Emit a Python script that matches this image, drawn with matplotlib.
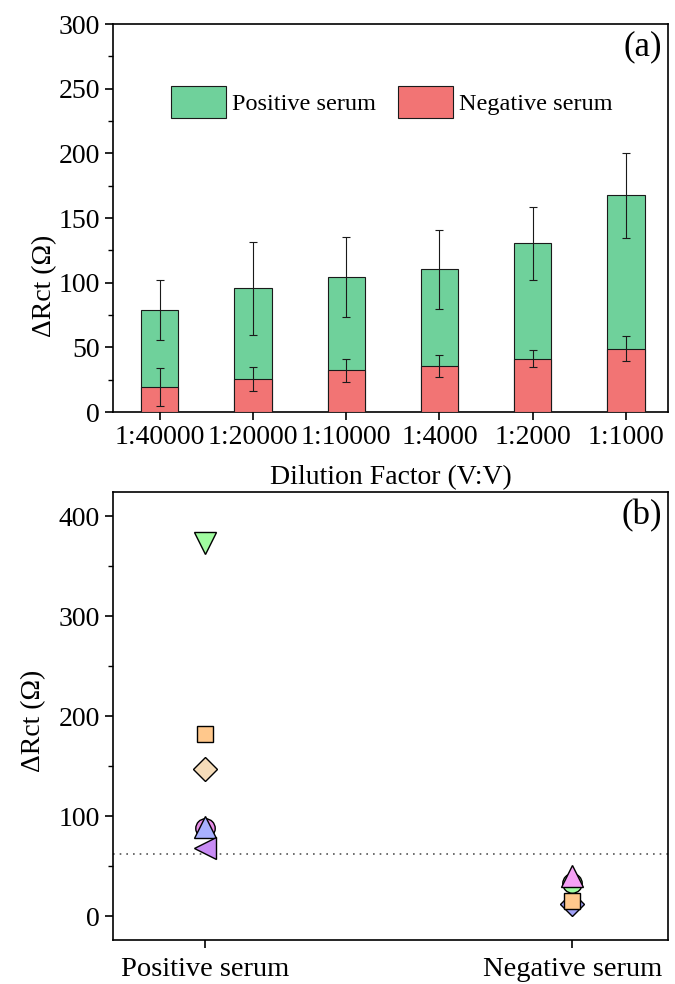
import numpy as np
import matplotlib
matplotlib.use('Agg')
import matplotlib.pyplot as plt
from matplotlib.ticker import MultipleLocator

plt.rcParams['font.family'] = ['Liberation Serif', 'DejaVu Serif']
plt.rcParams['mathtext.fontset'] = 'stix'

# (a) 稀释倍数数据
dilutions = ['1:40000', '1:20000', '1:10000', '1:4000', '1:2000', '1:1000']
pos_mean = [79, 95.5, 104.3, 110.2, 130.3, 167.4]
pos_err = [23, 36, 30.7, 30.7, 28.2, 33.1]
neg_mean = [19.3, 25.5, 32.2, 35.5, 41.2, 48.9]
neg_err = [14.5, 9.3, 8.8, 8.6, 6.4, 9.5]

# (b) 单个样本数据
groups = ['Positive serum', 'Negative serum']
pos_pts = [373, 182, 147, 88.5, 89, 68]
pos_markers = ['v', 's', 'D', 'o', '^', '<']
pos_colors = ['#a0fca0', '#ffc88c', '#f5dcb9', '#e68ce6', '#a8b0ff', '#c88cf5']
neg_pts = [12, 15, 33, 40.5]
neg_markers = ['D', 's', 'o', '^']
neg_colors = ['#a0a0f5', '#ffc88c', '#a0fca0', '#f5a0f5']
cutoff = 62.5

msize = {'v': 16, '^': 16, '<': 16, 'o': 14, 's': 11.5, 'D': 12.2}

fig = plt.figure(figsize=(6.75, 9.84), dpi=100)
ax1 = fig.add_axes([113/675, 1-412/984, 555/675, 388/984])
ax2 = fig.add_axes([113/675, 1-940/984, 555/675, 448/984])

x = np.arange(len(dilutions))
ax1.bar(x, pos_mean, 0.4, color='#6fd19b', edgecolor='#1a1a1a', linewidth=0.8,
        label='Positive serum', zorder=2)
ax1.errorbar(x, pos_mean, yerr=pos_err, fmt='none', ecolor='#1a1a1a',
             elinewidth=0.8, capsize=3, capthick=0.8, zorder=3)
ax1.bar(x, neg_mean, 0.4, color='#f27474', edgecolor='#1a1a1a', linewidth=0.8,
        label='Negative serum', zorder=4)
ax1.errorbar(x, neg_mean, yerr=neg_err, fmt='none', ecolor='#1a1a1a',
             elinewidth=0.8, capsize=3, capthick=0.8, zorder=5)
ax1.set_xlim(-0.5, 5.45)
ax1.set_ylim(0, 300)
ax1.set_xticks(x)
ax1.set_xticklabels(dilutions)
ax1.yaxis.set_major_locator(MultipleLocator(50))
ax1.yaxis.set_minor_locator(MultipleLocator(25))
ax1.set_ylabel('ΔRct (Ω)', fontsize=20)
ax1.yaxis.set_label_coords(-0.10, 0.325)
ax1.set_xlabel('Dilution Factor (V:V)', fontsize=20, labelpad=11)
ax1.tick_params(axis='both', labelsize=20, direction='out', length=6, width=1.2)
ax1.tick_params(axis='y', which='minor', length=3.5, width=1)
ax1.legend(loc='center left', bbox_to_anchor=(58/555, 1-78/388), ncol=2, frameon=False,
           fontsize=17.5, handlelength=2.26, handleheight=1.6, columnspacing=0.9,
           handletextpad=0.25, borderaxespad=0, borderpad=0)
ax1.text(0.99, 0.985, '(a)', transform=ax1.transAxes, ha='right', va='top', fontsize=25)

# (b)
for v, m, c in zip(pos_pts, pos_markers, pos_colors):
    ax2.plot(1, v, marker=m, color=c, markeredgecolor='black', markeredgewidth=1,
             markersize=msize[m], linestyle='none', zorder=3)
for v, m, c in zip(neg_pts, neg_markers, neg_colors):
    ax2.plot(2, v, marker=m, color=c, markeredgecolor='black', markeredgewidth=1,
             markersize=msize[m], linestyle='none', zorder=3)
ax2.axhline(cutoff, color='#555555', linestyle=(0, (1, 3)), linewidth=1.2, zorder=1)
ax2.set_xlim(0.75, 2.26)
ax2.set_ylim(-24, 424)
ax2.set_xticks([1, 2])
ax2.set_xticklabels(groups)
ax2.yaxis.set_major_locator(MultipleLocator(100))
ax2.yaxis.set_minor_locator(MultipleLocator(50))
ax2.set_ylabel('ΔRct (Ω)', fontsize=20)
ax2.yaxis.set_label_coords(-0.12, 0.49)
ax2.tick_params(axis='y', labelsize=20, direction='out', length=6, width=1.2)
ax2.tick_params(axis='x', labelsize=20.5, direction='out', length=6, width=1.2, pad=6)
ax2.tick_params(axis='y', which='minor', length=3.5, width=1)
ax2.text(0.99, 0.985, '(b)', transform=ax2.transAxes, ha='right', va='top', fontsize=25)

for ax in (ax1, ax2):
    for s in ax.spines.values():
        s.set_linewidth(1.2)

fig.savefig('out.png', dpi=100)
